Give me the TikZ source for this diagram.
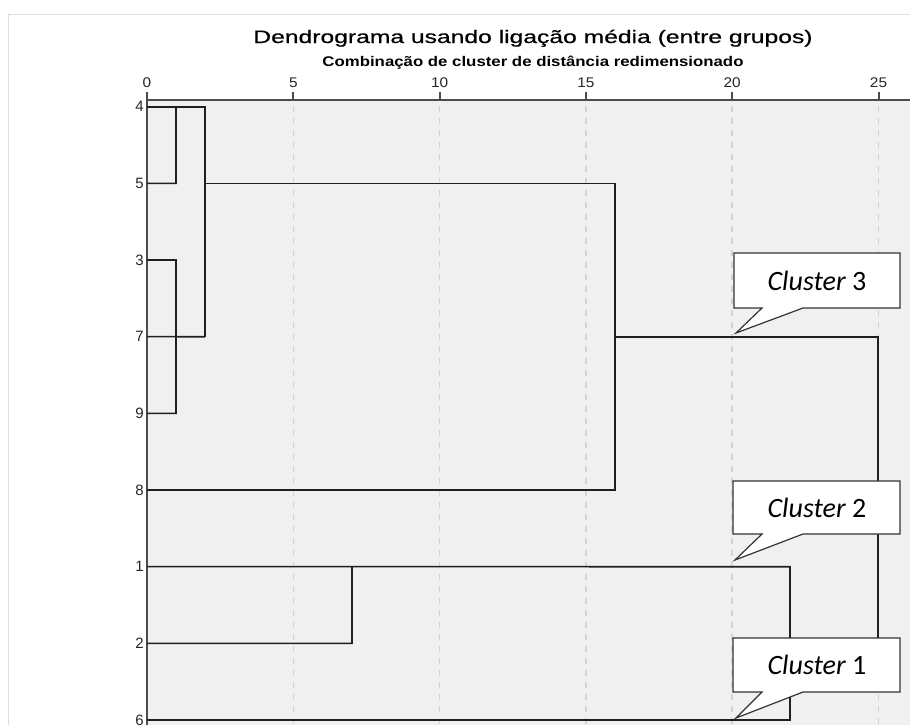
\documentclass[tikz,border=0pt]{standalone}
\usepackage{fontspec}
\setmainfont{Liberation Sans}
\newfontfamily\titlefont[FakeBold=0.5]{Liberation Sans}
\newfontfamily\calib{Carlito}
\begin{document}
\begin{tikzpicture}[x=1pt,y=-1pt,
  dline/.style={draw=black!88,line width=1.6pt},
  axisline/.style={draw=black!70,line width=2.2pt},
  gridline/.style={draw=black!17,line width=1.5pt,dash pattern=on 6pt off 6pt},
  callout/.style={draw=black!80,fill=white,line width=1.2pt,line join=miter},
  ticklab/.style={font=\fontsize{14}{14}\selectfont,text=black!85,inner sep=0pt,anchor=base,xscale=1.1},
  leaflab/.style={font=\fontsize{15}{15}\selectfont,text=black!85,inner sep=0pt,anchor=east},
  clab/.style={font=\calib\fontsize{28}{28}\selectfont,inner sep=0pt}]
\useasboundingbox (0,0) rectangle (910,724);
\fill[white] (0,0) rectangle (910,724);
\draw[black!13,line width=1pt] (8,14) -- (915,14);
\draw[black!13,line width=1pt] (8,14) -- (8,730);
\fill[black!6] (147,100) rectangle (912,726);
% titles
\node[font=\titlefont\fontsize{18}{18}\selectfont,inner sep=0pt,anchor=base,xscale=1.37] (title) at (533,43) {Dendrograma usando ligação média (entre grupos)};
\node[font=\bfseries\fontsize{14}{14}\selectfont,inner sep=0pt,anchor=base,xscale=1.2] (subtitle) at (533,66) {Combinação de cluster de distância redimensionado};
% grid and ticks
\foreach \d in {0,5,...,25}{
  \pgfmathsetmacro{\xx}{147+29.26*\d}
  \draw[black!70,line width=2pt] (\xx,92) -- (\xx,100);
  \node[ticklab] at (\xx,87) {\d};
}
\foreach \d in {5,10,...,25}{
  \pgfmathsetmacro{\xx}{147+29.26*\d}
  \draw[gridline] (\xx,106) -- (\xx,726);
}
\draw[axisline] (147,100) -- (912,100);
\draw[axisline] (147,92) -- (147,726);
% leaves
\foreach \lab/\i in {4/0,5/1,3/2,7/3,9/4,8/5,1/6,2/7,6/8}{
  \coordinate (L\lab) at (147,{106.7+76.66*\i});
  \node[leaflab] at (144,{106.7+76.66*\i}) {\lab};
}
% dendrogram
\draw[dline] (L4) -- (205,106.7) -- (205,336.7);
\draw[dline] (L5) -- (176,183.4) -- (176,106.7);
\draw[dline] (L3) -- (176,260) -- (176,413.3) -- (L9);
\draw[dline] (L7) -- (205,336.7);
\draw[dline] (205,183.4) -- (615,183.4) -- (615,490) -- (L8);
\draw[dline] (615,336.7) -- (878,336.7) -- (878,660) -- (790,660);
\draw[dline] (L1) -- (790,566.7) -- (790,720) -- (L6);
\draw[dline] (L2) -- (352,643.3) -- (352,566.7);
% callouts
\draw[callout] (734,253) -- (900,253) -- (900,308) -- (803,308) -- (736,333) -- (762,308) -- (734,308) -- cycle;
\node[clab] (c3) at (817,281) {\itshape Cluster\/\upshape{} 3};
\draw[callout] (733,481) -- (900,481) -- (900,534) -- (803,534) -- (735,560) -- (762,534) -- (733,534) -- cycle;
\node[clab] (c2) at (817,508) {\itshape Cluster\/\upshape{} 2};
\draw[callout] (733,638) -- (900,638) -- (900,692) -- (803,692) -- (736,718) -- (762,692) -- (733,692) -- cycle;
\node[clab] (c1) at (817,665) {\itshape Cluster\/\upshape{} 1};
\end{tikzpicture}
\end{document}
